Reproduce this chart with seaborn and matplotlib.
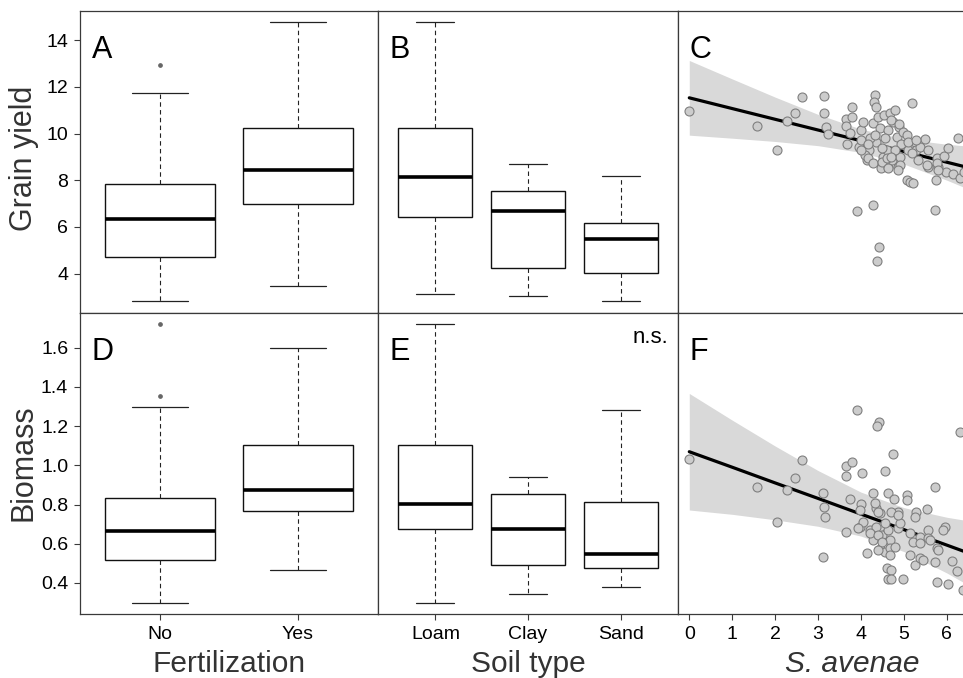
import matplotlib
matplotlib.use("Agg")
import matplotlib.pyplot as plt
import seaborn as sns
import pandas as pd

sns.set_theme(style="white")
plt.rcParams["font.family"] = ["Liberation Sans", "DejaVu Sans"]

# ---- box summaries (whisker low, Q1, median, Q3, whisker high) ----
fert_groups = ["No", "Yes"]
fert_yield_whislo = [2.81, 3.48]
fert_yield_q1 = [4.69, 6.96]
fert_yield_med = [6.32, 8.45]
fert_yield_q3 = [7.83, 10.22]
fert_yield_whishi = [11.72, 14.77]
fert_yield_out = [[12.93], []]

soil_groups = ["Loam", "Clay", "Sand"]
soil_yield_whislo = [3.13, 3.02, 2.81]
soil_yield_q1 = [6.41, 4.23, 4.01]
soil_yield_med = [8.12, 6.70, 5.49]
soil_yield_q3 = [10.22, 7.53, 6.15]
soil_yield_whishi = [14.77, 8.70, 8.16]
soil_yield_out = [[], [], []]

fert_bio_whislo = [0.297, 0.465]
fert_bio_q1 = [0.518, 0.765]
fert_bio_med = [0.667, 0.874]
fert_bio_q3 = [0.833, 1.101]
fert_bio_whishi = [1.296, 1.600]
fert_bio_out = [[1.354, 1.719], []]

soil_bio_whislo = [0.297, 0.343, 0.382]
soil_bio_q1 = [0.674, 0.491, 0.477]
soil_bio_med = [0.804, 0.674, 0.550]
soil_bio_q3 = [1.101, 0.855, 0.814]
soil_bio_whishi = [1.719, 0.938, 1.282]
soil_bio_out = [[], [], []]

# ---- aphid density vs. grain yield ----
yield_aphid = [0.00, 1.58, 2.05, 2.28, 2.47, 2.62, 3.13, 3.14, 3.18, 3.24, 3.64, 3.65, 3.67, 3.74,
               3.79, 3.79, 3.90, 3.95, 3.99, 4.04, 4.01, 4.15, 4.18, 4.28, 4.28, 4.32, 4.31, 4.34,
               4.42, 4.38, 4.36, 4.40, 4.44, 4.46, 4.52, 4.53, 4.60, 4.63, 4.63, 4.67, 4.72, 4.75,
               4.79, 4.83, 4.87, 4.88, 4.91, 4.94, 4.98, 5.06, 5.14, 5.22, 5.08, 5.10, 5.19, 5.25,
               5.29, 5.33, 5.37, 5.50, 5.56, 5.56, 5.72, 5.74, 5.76, 5.80, 5.93, 5.97, 6.03, 6.15,
               6.25, 6.30, 4.71, 4.89, 4.21, 4.32, 4.56, 4.79, 4.48, 4.09, 4.17, 4.28, 4.48, 4.60,
               4.71, 4.91, 4.87, 4.63, 5.10, 5.29, 5.18, 5.53, 5.76, 5.80, 4.01, 4.17, 6.40]
yield_value = [10.96, 10.32, 9.29, 10.53, 10.87, 11.57, 11.61, 10.87, 10.29, 10.00, 10.62, 10.32, 9.53, 10.03,
               11.12, 10.72, 6.68, 9.43, 10.15, 10.50, 9.72, 8.86, 9.29, 6.93, 10.43, 11.67, 11.36, 11.14,
               5.15, 4.52, 9.64, 10.72, 10.22, 8.51, 9.00, 10.79, 9.29, 10.15, 8.58, 10.86, 8.86, 10.50,
               11.00, 9.86, 8.58, 10.29, 9.00, 9.57, 10.07, 8.00, 7.93, 7.86, 9.93, 9.29, 11.29, 9.64,
               9.29, 8.86, 9.43, 9.75, 9.29, 8.58, 6.72, 8.03, 8.93, 8.58, 9.03, 8.36, 9.40, 8.26,
               9.79, 8.08, 10.57, 10.39, 9.79, 9.93, 9.82, 9.29, 9.36, 9.07, 8.93, 8.72, 8.79, 8.93,
               9.00, 8.65, 8.43, 8.51, 9.64, 9.72, 9.15, 8.65, 8.72, 8.43, 9.29, 9.57, 8.35]

# fitted line and 95% confidence band
yield_fit_x = [0, 1, 2, 3, 4, 5, 6, 6.5]
yield_fit = [11.53, 11.07, 10.61, 10.15, 9.69, 9.23, 8.77, 8.54]
yield_ci_hi = [13.13, 12.34, 11.56, 10.82, 10.19, 9.77, 9.54, 9.46]
yield_ci_lo = [9.93, 9.80, 9.66, 9.48, 9.19, 8.69, 8.00, 7.62]

# ---- aphid density vs. biomass ----
bio_aphid = [0.00, 1.58, 2.05, 2.28, 2.47, 2.62, 3.12, 3.14, 3.16, 3.12, 3.90, 4.42, 4.38, 6.30,
             4.74, 3.64, 3.78, 3.64, 4.03, 4.56, 5.72, 5.54, 4.28, 4.64, 4.78, 5.06, 5.06, 3.74,
             4.01, 3.97, 4.36, 4.44, 4.87, 5.29, 5.25, 5.95, 5.91, 3.66, 3.97, 4.05, 4.21, 4.28,
             4.44, 4.48, 4.63, 4.67, 4.87, 4.91, 5.14, 5.22, 5.37, 5.56, 5.56, 4.15, 4.44, 4.56,
             4.67, 5.14, 5.25, 5.37, 5.72, 5.77, 6.13, 6.24, 4.60, 4.69, 4.63, 4.71, 4.98, 5.77,
             6.03, 6.37, 4.32, 4.40, 4.71, 4.87, 4.36, 4.56, 3.94, 4.21, 4.40, 4.48, 4.79, 5.37,
             5.60, 5.80, 4.40, 4.67, 5.45]
bio_value = [1.030, 0.891, 0.712, 0.874, 0.936, 1.026, 0.860, 0.789, 0.738, 0.534, 1.281, 1.218, 1.201, 1.167,
             1.057, 0.996, 1.018, 0.947, 0.959, 0.972, 0.888, 0.776, 0.860, 0.857, 0.826, 0.848, 0.823, 0.826,
             0.803, 0.772, 0.781, 0.755, 0.763, 0.763, 0.738, 0.687, 0.670, 0.659, 0.687, 0.712, 0.670, 0.619,
             0.687, 0.645, 0.670, 0.619, 0.679, 0.704, 0.653, 0.611, 0.636, 0.670, 0.628, 0.552, 0.572, 0.560,
             0.577, 0.543, 0.492, 0.526, 0.509, 0.577, 0.512, 0.462, 0.478, 0.467, 0.419, 0.421, 0.419, 0.407,
             0.395, 0.365, 0.806, 0.763, 0.763, 0.747, 0.687, 0.704, 0.679, 0.653, 0.645, 0.611, 0.585, 0.603,
             0.620, 0.568, 0.568, 0.543, 0.517]

bio_fit_x = [0, 1, 2, 3, 4, 5, 6, 6.5]
bio_fit = [1.069, 0.990, 0.910, 0.831, 0.751, 0.672, 0.593, 0.553]
bio_ci_hi = [1.366, 1.230, 1.098, 0.973, 0.863, 0.784, 0.735, 0.717]
bio_ci_lo = [0.772, 0.750, 0.722, 0.689, 0.639, 0.560, 0.451, 0.389]

aphid_ticks = [0, 1, 2, 3, 4, 5, 6]

# ---------------------------------------------------------------
W, H = 963, 678
fig = plt.figure(figsize=(W / 100, H / 100), dpi=100)


def add_panel(x0, top, w, h):
    return fig.add_axes([x0 / W, 1 - (top + h) / H, w / W, h / H])


cols = [(80, 298), (378, 300), (678, 347)]
rows = [(11, 302), (313, 301)]
axes = [[add_panel(c[0], r[0], c[1], r[1]) for c in cols] for r in rows]

frame_col = "#3a3a3a"
tick_kw = dict(direction="out", length=4.5, width=0.8, color=frame_col,
               labelsize=14, labelcolor="black", pad=4)


def draw_boxes(ax, labels, lo, q1, med, q3, hi, outs):
    stats = [dict(label=l, whislo=a, q1=b, med=c, q3=d, whishi=e, fliers=f)
             for l, a, b, c, d, e, f in zip(labels, lo, q1, med, q3, hi, outs)]
    ax.bxp(stats, positions=range(1, len(labels) + 1), widths=0.8, capwidths=0.41,
           patch_artist=True, manage_ticks=False,
           boxprops=dict(facecolor="white", edgecolor="#111111", linewidth=1.0),
           medianprops=dict(color="black", linewidth=2.6, solid_capstyle="butt"),
           whiskerprops=dict(color="#222222", linewidth=0.8, linestyle=(0, (4, 3))),
           capprops=dict(color="#222222", linewidth=0.9),
           flierprops=dict(marker="o", markersize=2.4, markerfacecolor="#666666",
                           markeredgecolor="#666666", linestyle="none"))
    n = len(labels)
    pad = 0.04 * n
    ax.set_xlim(0.5 - pad, n + 0.5 + pad)


def draw_scatter(ax, xs, ys, fx, fy, lo, hi):
    ax.fill_between(fx, lo, hi, color="#d9d9d9", linewidth=0, zorder=1)
    sns.lineplot(x=fx, y=fy, ax=ax, color="black", linewidth=2.3, zorder=2)
    sns.scatterplot(data=pd.DataFrame({"x": xs, "y": ys}), x="x", y="y", ax=ax,
                    s=42, color="#cccccc", edgecolor="#7f7f7f", linewidth=0.8, zorder=3)
    ax.set_xlim(-0.263, 7.82)


draw_boxes(axes[0][0], fert_groups, fert_yield_whislo, fert_yield_q1, fert_yield_med,
           fert_yield_q3, fert_yield_whishi, fert_yield_out)
draw_boxes(axes[0][1], soil_groups, soil_yield_whislo, soil_yield_q1, soil_yield_med,
           soil_yield_q3, soil_yield_whishi, soil_yield_out)
draw_scatter(axes[0][2], yield_aphid, yield_value, yield_fit_x, yield_fit, yield_ci_lo, yield_ci_hi)

draw_boxes(axes[1][0], fert_groups, fert_bio_whislo, fert_bio_q1, fert_bio_med,
           fert_bio_q3, fert_bio_whishi, fert_bio_out)
draw_boxes(axes[1][1], soil_groups, soil_bio_whislo, soil_bio_q1, soil_bio_med,
           soil_bio_q3, soil_bio_whishi, soil_bio_out)
draw_scatter(axes[1][2], bio_aphid, bio_value, bio_fit_x, bio_fit, bio_ci_lo, bio_ci_hi)

for ax in axes[0]:
    ax.set_ylim(2.31, 15.25)
for ax in axes[1]:
    ax.set_ylim(0.242, 1.776)

for i, row in enumerate(axes):
    for j, ax in enumerate(row):
        ax.set_xlabel("")
        ax.set_ylabel("")
        for sp in ax.spines.values():
            sp.set_color(frame_col)
            sp.set_linewidth(0.9)
            sp.set_visible(True)
        ax.tick_params(**tick_kw)
        if j == 0:
            ax.tick_params(axis="y", left=True, labelleft=True)
        else:
            ax.tick_params(axis="y", left=False, labelleft=False)
        if i == 1:
            ax.tick_params(axis="x", bottom=True, labelbottom=True)
        else:
            ax.tick_params(axis="x", bottom=False, labelbottom=False)

axes[0][0].set_yticks([4, 6, 8, 10, 12, 14])
axes[1][0].set_yticks([0.4, 0.6, 0.8, 1.0, 1.2, 1.4, 1.6])
axes[1][0].set_yticklabels(["0.4", "0.6", "0.8", "1.0", "1.2", "1.4", "1.6"])
axes[1][0].set_xticks([1, 2])
axes[1][0].set_xticklabels(fert_groups)
axes[1][1].set_xticks([1, 2, 3])
axes[1][1].set_xticklabels(soil_groups)
axes[1][2].set_xticks(aphid_ticks)
axes[0][2].set_xticks(aphid_ticks)

# panel letters
letters = [["A", "B", "C"], ["D", "E", "F"]]
for i in range(2):
    for j in range(3):
        axes[i][j].annotate(letters[i][j], xy=(0, 1), xycoords="axes fraction",
                            xytext=(8.5, -17), textcoords="offset points",
                            ha="left", va="top", fontsize=22, color="black")
axes[1][1].annotate("n.s.", xy=(1, 1), xycoords="axes fraction",
                    xytext=(-7, -10), textcoords="offset points",
                    ha="right", va="top", fontsize=16, color="black")

# axis titles
lab_col = "#333333"
fig.text(24 / W, 1 - 158 / H, "Grain yield", rotation=90, ha="center", va="center",
         fontsize=22, color=lab_col)
fig.text(24 / W, 1 - 463 / H, "Biomass", rotation=90, ha="center", va="center",
         fontsize=22, color=lab_col)
fig.text(229 / W, 1 - 672 / H, "Fertilization", ha="center", va="baseline",
         fontsize=21.5, color=lab_col)
fig.text(528 / W, 1 - 672 / H, "Soil type", ha="center", va="baseline",
         fontsize=21.5, color=lab_col)
fig.text(852 / W, 1 - 672 / H, "S. avenae", ha="center", va="baseline",
         fontsize=21.5, color=lab_col, style="italic")

fig.savefig("out.png", dpi=100)
